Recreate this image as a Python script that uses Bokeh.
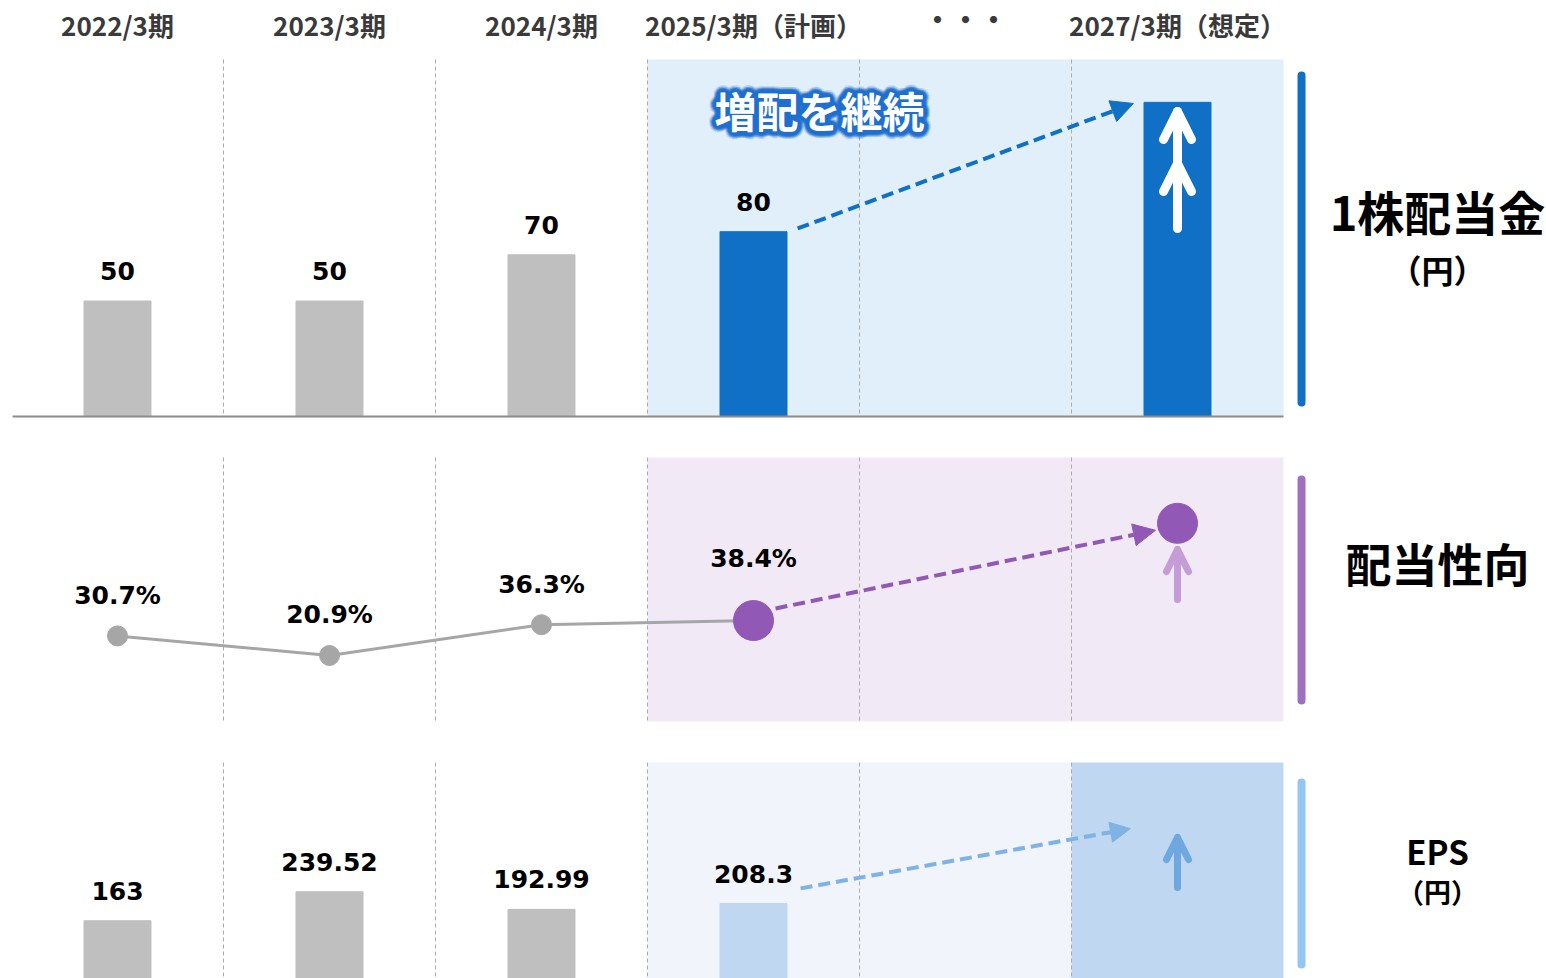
import numpy as np
from bokeh.plotting import figure
from bokeh.models import Range1d, ColumnDataSource, Arrow, NormalHead, OpenHead
from bokeh.core.properties import value
from bokeh.embed import file_html
from bokeh.resources import INLINE

# ---------------- data ----------------
periods = ["2022/3期", "2023/3期", "2024/3期", "2025/3期（計画）", "・・・", "2027/3期（想定）"]
dividend = [50, 50, 70, 80]            # 1株配当金（円）
dividend_labels = ["50", "50", "70", "80"]
dividend_target = 136                   # 2027/3期（想定）: illustrative bar, no label
payout = [30.7, 20.9, 36.3, 38.4]       # 配当性向（%）
payout_labels = ["30.7%", "20.9%", "36.3%", "38.4%"]
payout_target = 87                      # 2027/3期（想定）: illustrative point
eps = [163, 239.52, 192.99, 208.3]      # EPS（円）
eps_labels = ["163", "239.52", "192.99", "208.3"]

# ---------------- layout / style ----------------
col_x = [0, 1, 2, 3, 4, 5]
data_x = [0, 1, 2, 3]
target_x = 5
BAR_W = 0.316
CJK = value("Noto Sans CJK JP")
NUM = value("DejaVu Sans")

BLUE = "#1070C6"
GRAY_BAR = "#BFBFBF"
PURPLE = "#9159B5"

W, H = 1546, 978
p = figure(width=W, height=H,
           x_range=Range1d(-117 / 212, (W - 117) / 212), y_range=Range1d(H, 0),
           output_backend="svg", toolbar_location=None,
           x_axis_location=None, y_axis_location=None,
           min_border=0, outline_line_color=None,
           background_fill_color="white", border_fill_color="white")
p.grid.visible = False
p.extra_y_ranges = {
    "div": Range1d((416 - H) / 2.31, 416 / 2.31),
    "pay": Range1d(20.9 + (655 - H) / 2, 20.9 + 655 / 2),
    "eps": Range1d((982 - H) / 0.379, 982 / 0.379),
}


def txt(x, y, s, size, color="black", font=CJK, yr="default", y_offset=0, alpha=1.0):
    src = ColumnDataSource(dict(x=list(x), y=list(y), t=list(s),
                                yo=list(y_offset) if hasattr(y_offset, "__len__") else [y_offset] * len(x)))
    p.text(x="x", y="y", text="t", source=src, y_offset="yo",
           text_font=font, text_font_size=f"{size}px", text_font_style="bold",
           text_align="center", text_baseline="middle", text_color=color,
           text_alpha=alpha, y_range_name=yr)


# ---------------- panel backgrounds ----------------
p.quad(left=[2.5], right=[5.5], top=[59], bottom=[416], color="#E1EFFA", line_color=None)
p.quad(left=[2.5], right=[5.5], top=[457], bottom=[721], color="#F1EAF6", line_color=None)
p.quad(left=[2.5], right=[4.5], top=[762], bottom=[985], color="#F1F5FB", line_color=None)
p.quad(left=[4.5], right=[5.5], top=[762], bottom=[985], color="#C0D7F1", line_color=None)

# dashed column separators
for (t, b) in [(59, 416), (457, 721), (762, 985)]:
    seps = [0.5, 1.5, 2.5, 3.5, 4.5]
    p.segment(x0=seps, y0=[t] * 5, x1=seps, y1=[b] * 5,
              line_color="#ABABAB", line_width=1, line_dash="4 3")

# ---------------- header ----------------
txt(col_x[:4], [24] * 4, periods[:4], 26, color="#3A3A3A")
txt([col_x[5]], [24], [periods[5]], 26, color="#3A3A3A")
txt([col_x[4]], [18], [periods[4]], 28, color="#3A3A3A")

# ---------------- panel 1: dividend ----------------
p.vbar(x=data_x[:3], top=dividend[:3], bottom=0, width=BAR_W, color=GRAY_BAR, y_range_name="div")
p.vbar(x=[data_x[3], target_x], top=[dividend[3], dividend_target], bottom=0, width=BAR_W,
       color=BLUE, y_range_name="div")
p.segment(x0=[-0.495], y0=[0], x1=[5.5], y1=[0], line_color="#8C8C8C", line_width=2, y_range_name="div")
txt(data_x, dividend, dividend_labels, 25, font=NUM, yr="div", y_offset=-30)

p.add_layout(Arrow(end=NormalHead(size=22, fill_color=BLUE, line_color=BLUE),
                   x_start=data_x[3] + BAR_W / 2 + 0.05, y_start=dividend[3] + 1.4,
                   x_end=target_x - BAR_W / 2 - 0.05, y_end=dividend_target - 0.5,
                   line_color=BLUE, line_width=4, line_dash="12 6", y_range_name="div"))
# double white arrows inside the 2027 bar
for (y0, y1) in [(228, 163), (160, 111)]:
    p.add_layout(Arrow(end=OpenHead(size=28, line_color="white", line_width=9,
                                    line_cap="round", line_join="round"),
                       x_start=target_x, y_start=y0, x_end=target_x, y_end=y1,
                       line_color="white", line_width=9, line_cap="round"))

# glow text 増配を継続
ang = np.linspace(0, 2 * np.pi, 24, endpoint=False)
for r, a in [(7, 0.12), (5.5, 0.22), (4, 0.4), (2.5, 0.6), (1.2, 0.8)]:
    src = ColumnDataSource(dict(x=[3.311] * len(ang), y=[109] * len(ang), t=["増配を継続"] * len(ang),
                                xo=list(r * np.cos(ang)), yo=list(r * np.sin(ang))))
    p.text(x="x", y="y", text="t", source=src, x_offset="xo", y_offset="yo",
           text_font=CJK, text_font_size="42px", text_font_style="bold",
           text_align="center", text_baseline="middle", text_color="#1E6FD0", text_alpha=a)
txt([3.311], [109], ["増配を継続"], 42, color="white")

# ---------------- panel 2: payout ratio ----------------
p.line(x=data_x, y=payout, line_color="#A6A6A6", line_width=3, y_range_name="pay")
p.scatter(x=data_x[:3], y=payout[:3], size=20, color="#A6A6A6", y_range_name="pay")
p.add_layout(Arrow(end=NormalHead(size=22, fill_color=PURPLE, line_color=PURPLE),
                   x_start=data_x[3] + 0.104, y_start=payout[3] + 6,
                   x_end=target_x - 0.104, y_end=payout_target - 3.5,
                   line_color=PURPLE, line_width=4, line_dash="12 6", y_range_name="pay"))
p.scatter(x=[data_x[3], target_x], y=[payout[3], payout_target], size=40, color=PURPLE, y_range_name="pay")
txt(data_x, payout, payout_labels, 25, font=NUM, yr="pay", y_offset=[-40, -41, -40, -62])
p.add_layout(Arrow(end=OpenHead(size=22, line_color="#C49DD6", line_width=7,
                                line_cap="round", line_join="round"),
                   x_start=target_x, y_start=599, x_end=target_x, y_end=549,
                   line_color="#C49DD6", line_width=7, line_cap="round"))

# ---------------- panel 3: EPS ----------------
p.vbar(x=data_x[:3], top=eps[:3], bottom=0, width=BAR_W, color=GRAY_BAR, y_range_name="eps")
p.vbar(x=[data_x[3]], top=[eps[3]], bottom=0, width=BAR_W, color="#C0D7F1", y_range_name="eps")
txt(data_x, eps, eps_labels, 25, font=NUM, yr="eps", y_offset=-30)
p.add_layout(Arrow(end=NormalHead(size=20, fill_color="#7FB2E5", line_color="#7FB2E5"),
                   x_start=3.222, y_start=eps[3] + 40, x_end=4.778, y_end=406,
                   line_color="#7FB2E5", line_width=4, line_dash="12 6", y_range_name="eps"))
p.add_layout(Arrow(end=OpenHead(size=22, line_color="#6FA7E0", line_width=7,
                                line_cap="round", line_join="round"),
                   x_start=target_x, y_start=887, x_end=target_x, y_end=837,
                   line_color="#6FA7E0", line_width=7, line_cap="round"))

# ---------------- right-hand titles ----------------
RX = 5.585
p.segment(x0=[RX] * 3, y0=[75, 479, 782], x1=[RX] * 3, y1=[402, 700, 964],
          line_color=[BLUE, "#A070C0", "#93C6F2"], line_width=8, line_cap="round")
TX = 6.2264
txt([TX], [210], ["1株配当金"], 47)
txt([TX], [268], ["（円）"], 32)
txt([TX], [561], ["配当性向"], 46)
txt([TX], [850], ["EPS"], 33)
txt([TX], [891], ["（円）"], 27)

open("out.html", "w").write(file_html(p, INLINE))
